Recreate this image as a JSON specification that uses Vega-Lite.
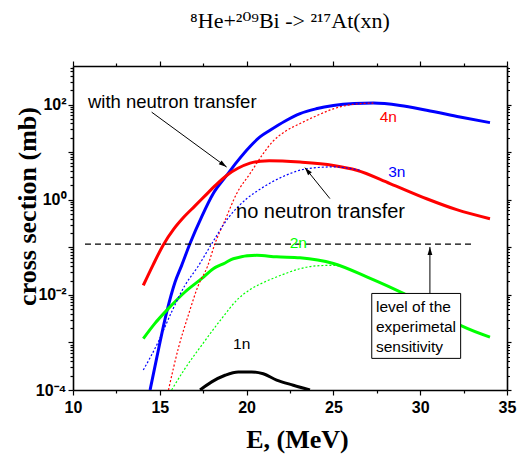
{
  "$schema": "https://vega.github.io/schema/vega-lite/v6.json",
  "width": 434,
  "height": 324,
  "autosize": {"type": "none"},
  "padding": {"left": 73, "top": 66, "right": 11, "bottom": 71},
  "background": "white",
  "config": {
    "view": {"stroke": null},
    "font": "Liberation Sans",
    "axis": {
      "domainColor": "black", "domainWidth": 1.6, "tickColor": "black", "tickWidth": 1.2,
      "labelFont": "Liberation Sans", "labelFontWeight": "bold", "labelFontSize": 16, "labelColor": "black",
      "grid": false, "labelOverlap": false, "labelFlush": false, "labelBound": false,
      "titleFont": "Liberation Serif", "titleFontWeight": "bold", "titleFontSize": 26, "titleColor": "black"
    }
  },
  "title": {"text": "⁸He+²⁰⁹Bi -> ²¹⁷At(xn)", "font": "Liberation Serif, DejaVu Serif", "fontSize": 22, "fontWeight": "normal", "anchor": "middle", "offset": 27, "color": "black"},
  "datasets": {
    "curves": [
      {"E": 14.44, "s": 0.0001, "xn": "3n", "t": "with"},
      {"E": 14.82, "s": 0.000468, "xn": "3n", "t": "with"},
      {"E": 15.40, "s": 0.00437, "xn": "3n", "t": "with"},
      {"E": 15.88, "s": 0.0186, "xn": "3n", "t": "with"},
      {"E": 16.26, "s": 0.0417, "xn": "3n", "t": "with"},
      {"E": 16.74, "s": 0.120, "xn": "3n", "t": "with"},
      {"E": 17.41, "s": 0.437, "xn": "3n", "t": "with"},
      {"E": 18.08, "s": 1.349, "xn": "3n", "t": "with"},
      {"E": 18.85, "s": 3.236, "xn": "3n", "t": "with"},
      {"E": 19.43, "s": 6.166, "xn": "3n", "t": "with"},
      {"E": 20.2, "s": 13.18, "xn": "3n", "t": "with"},
      {"E": 20.77, "s": 20.89, "xn": "3n", "t": "with"},
      {"E": 21.35, "s": 28.84, "xn": "3n", "t": "with"},
      {"E": 22.2, "s": 44.67, "xn": "3n", "t": "with"},
      {"E": 23.08, "s": 64.57, "xn": "3n", "t": "with"},
      {"E": 24.0, "s": 81.28, "xn": "3n", "t": "with"},
      {"E": 25.0, "s": 95.5, "xn": "3n", "t": "with"},
      {"E": 26.2, "s": 104.7, "xn": "3n", "t": "with"},
      {"E": 27.3, "s": 107.2, "xn": "3n", "t": "with"},
      {"E": 28.84, "s": 95.5, "xn": "3n", "t": "with"},
      {"E": 30.37, "s": 75.86, "xn": "3n", "t": "with"},
      {"E": 32.29, "s": 54.95, "xn": "3n", "t": "with"},
      {"E": 34.02, "s": 41.69, "xn": "3n", "t": "with"},

      {"E": 14.05, "s": 0.01585, "xn": "4n", "t": "with"},
      {"E": 14.6, "s": 0.0417, "xn": "4n", "t": "with"},
      {"E": 15.2, "s": 0.1122, "xn": "4n", "t": "with"},
      {"E": 15.8, "s": 0.2399, "xn": "4n", "t": "with"},
      {"E": 16.4, "s": 0.4365, "xn": "4n", "t": "with"},
      {"E": 17.0, "s": 0.7244, "xn": "4n", "t": "with"},
      {"E": 17.6, "s": 1.202, "xn": "4n", "t": "with"},
      {"E": 18.2, "s": 1.995, "xn": "4n", "t": "with"},
      {"E": 18.85, "s": 3.236, "xn": "4n", "t": "with"},
      {"E": 19.5, "s": 4.571, "xn": "4n", "t": "with"},
      {"E": 20.2, "s": 5.888, "xn": "4n", "t": "with"},
      {"E": 20.8, "s": 6.457, "xn": "4n", "t": "with"},
      {"E": 21.3, "s": 6.607, "xn": "4n", "t": "with"},
      {"E": 23.08, "s": 6.166, "xn": "4n", "t": "with"},
      {"E": 25.0, "s": 5.248, "xn": "4n", "t": "with"},
      {"E": 26.34, "s": 4.169, "xn": "4n", "t": "with"},
      {"E": 28.26, "s": 2.188, "xn": "4n", "t": "with"},
      {"E": 30.37, "s": 1.047, "xn": "4n", "t": "with"},
      {"E": 32.1, "s": 0.617, "xn": "4n", "t": "with"},
      {"E": 34.02, "s": 0.398, "xn": "4n", "t": "with"},

      {"E": 14.05, "s": 0.001202, "xn": "2n", "t": "with"},
      {"E": 14.72, "s": 0.002512, "xn": "2n", "t": "with"},
      {"E": 15.49, "s": 0.00513, "xn": "2n", "t": "with"},
      {"E": 16.45, "s": 0.01148, "xn": "2n", "t": "with"},
      {"E": 17.41, "s": 0.02188, "xn": "2n", "t": "with"},
      {"E": 18.08, "s": 0.03548, "xn": "2n", "t": "with"},
      {"E": 18.76, "s": 0.04677, "xn": "2n", "t": "with"},
      {"E": 19.23, "s": 0.05754, "xn": "2n", "t": "with"},
      {"E": 20.58, "s": 0.06761, "xn": "2n", "t": "with"},
      {"E": 21.73, "s": 0.0631, "xn": "2n", "t": "with"},
      {"E": 23.08, "s": 0.0603, "xn": "2n", "t": "with"},
      {"E": 25.0, "s": 0.04571, "xn": "2n", "t": "with"},
      {"E": 26.92, "s": 0.02399, "xn": "2n", "t": "with"},
      {"E": 29.03, "s": 0.01072, "xn": "2n", "t": "with"},
      {"E": 30.95, "s": 0.00437, "xn": "2n", "t": "with"},
      {"E": 32.48, "s": 0.002138, "xn": "2n", "t": "with"},
      {"E": 34.02, "s": 0.001288, "xn": "2n", "t": "with"},

      {"E": 17.32, "s": 0.0001, "xn": "1n", "t": "with"},
      {"E": 17.99, "s": 0.000148, "xn": "1n", "t": "with"},
      {"E": 18.76, "s": 0.000204, "xn": "1n", "t": "with"},
      {"E": 19.52, "s": 0.00024, "xn": "1n", "t": "with"},
      {"E": 20.29, "s": 0.00024, "xn": "1n", "t": "with"},
      {"E": 20.96, "s": 0.000219, "xn": "1n", "t": "with"},
      {"E": 21.73, "s": 0.000162, "xn": "1n", "t": "with"},
      {"E": 22.69, "s": 0.000126, "xn": "1n", "t": "with"},
      {"E": 23.65, "s": 0.0001, "xn": "1n", "t": "with"},

      {"E": 15.5, "s": 0.0001, "xn": "4n", "t": "without"},
      {"E": 16.07, "s": 0.000759, "xn": "4n", "t": "without"},
      {"E": 16.64, "s": 0.003715, "xn": "4n", "t": "without"},
      {"E": 17.22, "s": 0.01585, "xn": "4n", "t": "without"},
      {"E": 17.75, "s": 0.0398, "xn": "4n", "t": "without"},
      {"E": 18.18, "s": 0.120, "xn": "4n", "t": "without"},
      {"E": 18.76, "s": 0.3715, "xn": "4n", "t": "without"},
      {"E": 19.43, "s": 1.349, "xn": "4n", "t": "without"},
      {"E": 20.2, "s": 3.548, "xn": "4n", "t": "without"},
      {"E": 20.96, "s": 9.333, "xn": "4n", "t": "without"},
      {"E": 21.5, "s": 16.6, "xn": "4n", "t": "without"},
      {"E": 22.2, "s": 26.9, "xn": "4n", "t": "without"},
      {"E": 23.08, "s": 39.8, "xn": "4n", "t": "without"},
      {"E": 24.0, "s": 57.5, "xn": "4n", "t": "without"},
      {"E": 25.0, "s": 81.3, "xn": "4n", "t": "without"},
      {"E": 26.53, "s": 104.7, "xn": "4n", "t": "without"},
      {"E": 27.3, "s": 107.2, "xn": "4n", "t": "without"},

      {"E": 14.05, "s": 0.000263, "xn": "3n", "t": "without"},
      {"E": 14.91, "s": 0.001023, "xn": "3n", "t": "without"},
      {"E": 15.68, "s": 0.00437, "xn": "3n", "t": "without"},
      {"E": 16.45, "s": 0.01585, "xn": "3n", "t": "without"},
      {"E": 17.17, "s": 0.0380, "xn": "3n", "t": "without"},
      {"E": 18.0, "s": 0.120, "xn": "3n", "t": "without"},
      {"E": 18.85, "s": 0.3715, "xn": "3n", "t": "without"},
      {"E": 20.0, "s": 1.047, "xn": "3n", "t": "without"},
      {"E": 20.77, "s": 1.660, "xn": "3n", "t": "without"},
      {"E": 21.5, "s": 2.399, "xn": "3n", "t": "without"},
      {"E": 22.31, "s": 3.311, "xn": "3n", "t": "without"},
      {"E": 23.46, "s": 4.467, "xn": "3n", "t": "without"},
      {"E": 25.0, "s": 4.898, "xn": "3n", "t": "without"},
      {"E": 26.53, "s": 4.169, "xn": "3n", "t": "without"},

      {"E": 15.68, "s": 0.0001, "xn": "2n", "t": "without"},
      {"E": 16.45, "s": 0.000282, "xn": "2n", "t": "without"},
      {"E": 17.41, "s": 0.000871, "xn": "2n", "t": "without"},
      {"E": 18.56, "s": 0.003162, "xn": "2n", "t": "without"},
      {"E": 19.52, "s": 0.008318, "xn": "2n", "t": "without"},
      {"E": 20.2, "s": 0.01288, "xn": "2n", "t": "without"},
      {"E": 21.16, "s": 0.0195, "xn": "2n", "t": "without"},
      {"E": 22.11, "s": 0.02692, "xn": "2n", "t": "without"},
      {"E": 23.08, "s": 0.03548, "xn": "2n", "t": "without"},
      {"E": 24.04, "s": 0.04074, "xn": "2n", "t": "without"},
      {"E": 25.0, "s": 0.04169, "xn": "2n", "t": "without"},
      {"E": 25.96, "s": 0.03467, "xn": "2n", "t": "without"}
    ],
    "level": [
      {"E": 10.69, "s": 0.117},
      {"E": 32.97, "s": 0.117}
    ],
    "arrows": [
      {"E1": 14.53, "s1": 69.2, "E2": 18.85, "s2": 4.85, "heading": 36},
      {"E1": 24.80, "s1": 1.054, "E2": 23.36, "s2": 4.72, "heading": 231},
      {"E1": 30.56, "s1": 0.0107, "E2": 30.56, "s2": 0.1016, "heading": 270}
    ],
    "box": [
      {"E1": 27.21, "E2": 32.33, "s1": 0.0107, "s2": 0.000462}
    ],
    "boxtext": [
      {"E": 27.45, "s": 0.00562, "text": "level of the"},
      {"E": 27.45, "s": 0.00207, "text": "experimetal"},
      {"E": 27.45, "s": 0.000787, "text": "sensitivity"}
    ],
    "notes": [
      {"E": 10.86, "s": 112.2, "text": "with neutron transfer", "kind": "with"},
      {"E": 19.39, "s": 0.552, "text": "no neutron transfer", "kind": "no"}
    ],
    "curvelabels": [
      {"E": 28.16, "s": 54.45, "xn": "4n", "label": "4n"},
      {"E": 28.65, "s": 3.80, "xn": "3n", "label": "3n"},
      {"E": 22.98, "s": 0.1202, "xn": "2n", "label": "2n"},
      {"E": 19.72, "s": 0.000923, "xn": "1n", "label": "1n"}
    ]
  },
  "resolve": {"axis": {"x": "independent", "y": "independent"}},
  "layer": [
    {
      "data": {"name": "curves"},
      "transform": [{"filter": "datum.t == 'with'"}],
      "mark": {"type": "line", "strokeWidth": 3, "interpolate": "monotone", "clip": true},
      "encoding": {
        "x": {
          "field": "E", "type": "quantitative",
          "scale": {"type": "linear", "domain": [10, 35], "nice": false, "zero": false},
          "axis": {
            "orient": "bottom",
            "values": [10, 12.5, 15, 17.5, 20, 22.5, 25, 27.5, 30, 32.5, 35],
            "labelExpr": "datum.value % 5 == 0 ? datum.label : ''",
            "tickSize": {"condition": {"test": "datum.value % 5 == 0", "value": 5}, "value": 3},
            "labelPadding": 4,
            "title": "E, (MeV)",
            "titlePadding": 11,
            "titleX": 224
          }
        },
        "y": {
          "field": "s", "type": "quantitative",
          "scale": {"type": "log", "domain": [0.0001, 646], "nice": false},
          "axis": {
            "orient": "left",
            "values": [0.0001,0.0002,0.0003,0.0004,0.0005,0.0006,0.0007,0.0008,0.0009,0.001,0.002,0.003,0.004,0.005,0.006,0.007,0.008,0.009,0.01,0.02,0.03,0.04,0.05,0.06,0.07,0.08,0.09,0.1,0.2,0.3,0.4,0.5,0.6,0.7,0.8,0.9,1,2,3,4,5,6,7,8,9,10,20,30,40,50,60,70,80,90,100,200,300,400,500,600],
            "labelExpr": "abs(log(datum.value)/LN10 - round(log(datum.value)/LN10)) < 0.001 ? (round(log(datum.value)/LN10) == 2 ? '10²' : round(log(datum.value)/LN10) == 0 ? '10⁰' : round(log(datum.value)/LN10) == -2 ? '10⁻²' : round(log(datum.value)/LN10) == -4 ? '10⁻⁴' : '') : ''",
            "tickSize": {"condition": {"test": "abs(log(datum.value)/LN10 - round(log(datum.value)/LN10)) < 0.001", "value": 5}, "value": 3},
            "labelPadding": 2,
            "title": "cross section (mb)",
            "titleX": -46,
            "titleY": 140,
            "titleBaseline": "middle",
            "titleAngle": -90
          }
        },
        "detail": {"field": "xn"},
        "color": {"field": "xn", "type": "nominal", "scale": {"domain": ["4n", "3n", "2n", "1n"], "range": ["#ff0000", "#0000ff", "#00ff00", "#000000"]}, "legend": null}
      }
    },
    {
      "data": {"name": "curves"},
      "transform": [{"filter": "datum.t == 'without'"}],
      "mark": {"type": "line", "strokeWidth": 1.2, "strokeDash": [2, 2], "interpolate": "monotone", "clip": true},
      "encoding": {
        "x": {
          "field": "E", "type": "quantitative",
          "axis": {
            "orient": "top",
            "values": [10, 12.5, 15, 17.5, 20, 22.5, 25, 27.5, 30, 32.5, 35],
            "labels": false,
            "tickSize": {"condition": {"test": "datum.value % 5 == 0", "value": 5}, "value": 3},
            "title": null
          }
        },
        "y": {
          "field": "s", "type": "quantitative",
          "axis": {
            "orient": "right",
            "values": [0.0001,0.0002,0.0003,0.0004,0.0005,0.0006,0.0007,0.0008,0.0009,0.001,0.002,0.003,0.004,0.005,0.006,0.007,0.008,0.009,0.01,0.02,0.03,0.04,0.05,0.06,0.07,0.08,0.09,0.1,0.2,0.3,0.4,0.5,0.6,0.7,0.8,0.9,1,2,3,4,5,6,7,8,9,10,20,30,40,50,60,70,80,90,100,200,300,400,500,600],
            "labels": false,
            "tickSize": {"condition": {"test": "abs(log(datum.value)/LN10 - round(log(datum.value)/LN10)) < 0.001", "value": 4}, "value": 2.5},
            "title": null
          }
        },
        "detail": {"field": "xn"},
        "color": {"field": "xn", "type": "nominal", "legend": null}
      }
    },
    {
      "data": {"name": "level"},
      "mark": {"type": "line", "color": "black", "strokeWidth": 1.2, "strokeDash": [6, 4]},
      "encoding": {
        "x": {"field": "E", "type": "quantitative", "axis": null},
        "y": {"field": "s", "type": "quantitative", "axis": null}
      }
    },
    {
      "data": {"name": "box"},
      "mark": {"type": "rect", "fill": "white", "stroke": "black", "strokeWidth": 1},
      "encoding": {
        "x": {"field": "E1", "type": "quantitative", "axis": null},
        "x2": {"field": "E2"},
        "y": {"field": "s1", "type": "quantitative", "axis": null},
        "y2": {"field": "s2"}
      }
    },
    {
      "data": {"name": "boxtext"},
      "mark": {"type": "text", "align": "left", "baseline": "middle", "font": "Liberation Sans", "fontSize": 15.5, "color": "black"},
      "encoding": {
        "x": {"field": "E", "type": "quantitative", "axis": null},
        "y": {"field": "s", "type": "quantitative", "axis": null},
        "text": {"field": "text"}
      }
    },
    {
      "data": {"name": "arrows"},
      "mark": {"type": "rule", "color": "black", "strokeWidth": 1},
      "encoding": {
        "x": {"field": "E1", "type": "quantitative", "axis": null},
        "x2": {"field": "E2"},
        "y": {"field": "s1", "type": "quantitative", "axis": null},
        "y2": {"field": "s2"}
      }
    },
    {
      "data": {"name": "arrows"},
      "mark": {"type": "point", "shape": "M0,0L-2,-0.6L-2,0.6Z", "filled": true, "color": "black", "opacity": 1, "size": 64, "strokeWidth": 0},
      "encoding": {
        "x": {"field": "E2", "type": "quantitative", "axis": null},
        "y": {"field": "s2", "type": "quantitative", "axis": null},
        "angle": {"field": "heading", "type": "quantitative", "scale": null}
      }
    },
    {
      "data": {"name": "notes"},
      "transform": [{"filter": "datum.kind == 'with'"}],
      "mark": {"type": "text", "align": "left", "baseline": "middle", "font": "Liberation Sans", "fontSize": 18.5, "color": "black"},
      "encoding": {
        "x": {"field": "E", "type": "quantitative", "axis": null},
        "y": {"field": "s", "type": "quantitative", "axis": null},
        "text": {"field": "text"}
      }
    },
    {
      "data": {"name": "notes"},
      "transform": [{"filter": "datum.kind == 'no'"}],
      "mark": {"type": "text", "align": "left", "baseline": "middle", "font": "Liberation Sans", "fontSize": 20, "color": "black"},
      "encoding": {
        "x": {"field": "E", "type": "quantitative", "axis": null},
        "y": {"field": "s", "type": "quantitative", "axis": null},
        "text": {"field": "text"}
      }
    },
    {
      "data": {"name": "curvelabels"},
      "mark": {"type": "text", "align": "center", "baseline": "middle", "font": "Liberation Sans", "fontSize": 15.5},
      "encoding": {
        "x": {"field": "E", "type": "quantitative", "axis": null},
        "y": {"field": "s", "type": "quantitative", "axis": null},
        "text": {"field": "label"},
        "color": {"field": "xn", "type": "nominal", "legend": null}
      }
    }
  ]
}
